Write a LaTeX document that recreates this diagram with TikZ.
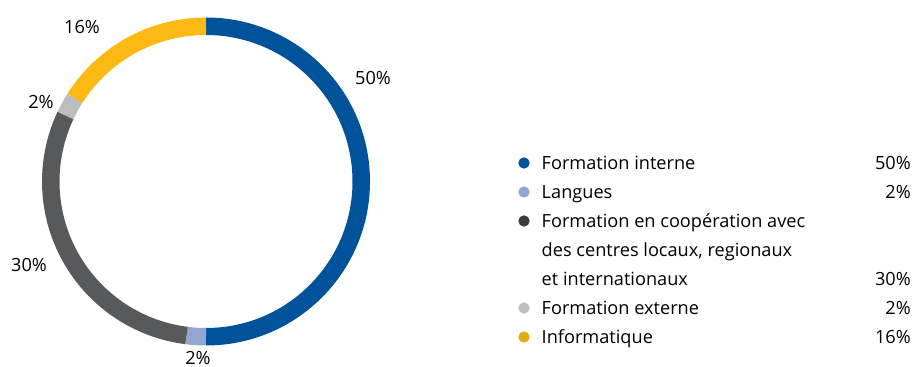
\documentclass[tikz,border=0pt]{standalone}
\usepackage{fontspec}
\setmainfont{Open Sans}
\usepackage{tikz}

\definecolor{bleu}{RGB}{0,82,155}
\definecolor{bleuclair}{RGB}{147,166,207}
\definecolor{grisfonce}{RGB}{88,89,91}
\definecolor{grisnoir}{RGB}{58,58,60}
\definecolor{grisclair}{RGB}{188,189,192}
\definecolor{jaune}{RGB}{253,185,19}
\definecolor{jauneleg}{RGB}{230,170,20}

\begin{document}
\begin{tikzpicture}[x=0.03cm, y=0.03cm,
    seg/.style = {line width=0.525cm},
    pct/.style = {inner sep=0, font=\fontsize{15.5}{18}\selectfont},
    leg/.style = {inner sep=0, anchor=base west, font=\fontsize{15.5}{18}\selectfont},
    val/.style = {inner sep=0, anchor=base east, font=\fontsize{15.5}{18}\selectfont},
    dot/.style = {circle, inner sep=0, minimum size=0.34cm}]

    \useasboundingbox (0,0) rectangle (915,367);

    % anneau
    \coordinate (c) at (206,185.5);
    \draw[seg, bleu]       (c) ++(90:155.25)     arc[start angle=90,     end angle=-90,    radius=155.25];
    \draw[seg, bleuclair]  (c) ++(-90:155.25)    arc[start angle=-90,    end angle=-97.2,  radius=155.25];
    \draw[seg, grisfonce]  (c) ++(-97.2:155.25)  arc[start angle=-97.2,  end angle=-205.2, radius=155.25];
    \draw[seg, grisclair]  (c) ++(-205.2:155.25) arc[start angle=-205.2, end angle=-212.4, radius=155.25];
    \draw[seg, jaune]      (c) ++(-212.4:155.25) arc[start angle=-212.4, end angle=-270,   radius=155.25];

    \node[pct] (p1) at (373,289) {50\%};
    \node[pct] (p2) at (198,9) {2\%};
    \node[pct] (p3) at (29,102) {30\%};
    \node[pct] (p4) at (41,265) {2\%};
    \node[pct] (p5) at (82,340) {16\%};

    % legende
    \node[dot, fill=bleu]      (d1) at (524,204) {};
    \node[dot, fill=bleuclair] (d2) at (524,175) {};
    \node[dot, fill=grisnoir]  (d3) at (524,146) {};
    \node[dot, fill=grisclair] (d4) at (524,59) {};
    \node[dot, fill=jauneleg]  (d5) at (524,30) {};

    \node[leg] (l1) at (541.5,197) {Formation interne};
    \node[leg] (l2) at (541.5,168) {Langues};
    \node[leg] (l3) at (541.5,139) {Formation en coopération avec};
    \node[leg] (l3b) at (541.5,110) {des centres locaux, regionaux};
    \node[leg] (l3c) at (541.5,81) {et internationaux};
    \node[leg] (l4) at (541.5,52) {Formation externe};
    \node[leg] (l5) at (541.5,23) {Informatique};

    \node[val] (v1) at (911,197) {50\%};
    \node[val] (v2) at (911,168) {2\%};
    \node[val] (v3) at (911,81) {30\%};
    \node[val] (v4) at (911,52) {2\%};
    \node[val] (v5) at (911,23) {16\%};
\end{tikzpicture}
\end{document}
